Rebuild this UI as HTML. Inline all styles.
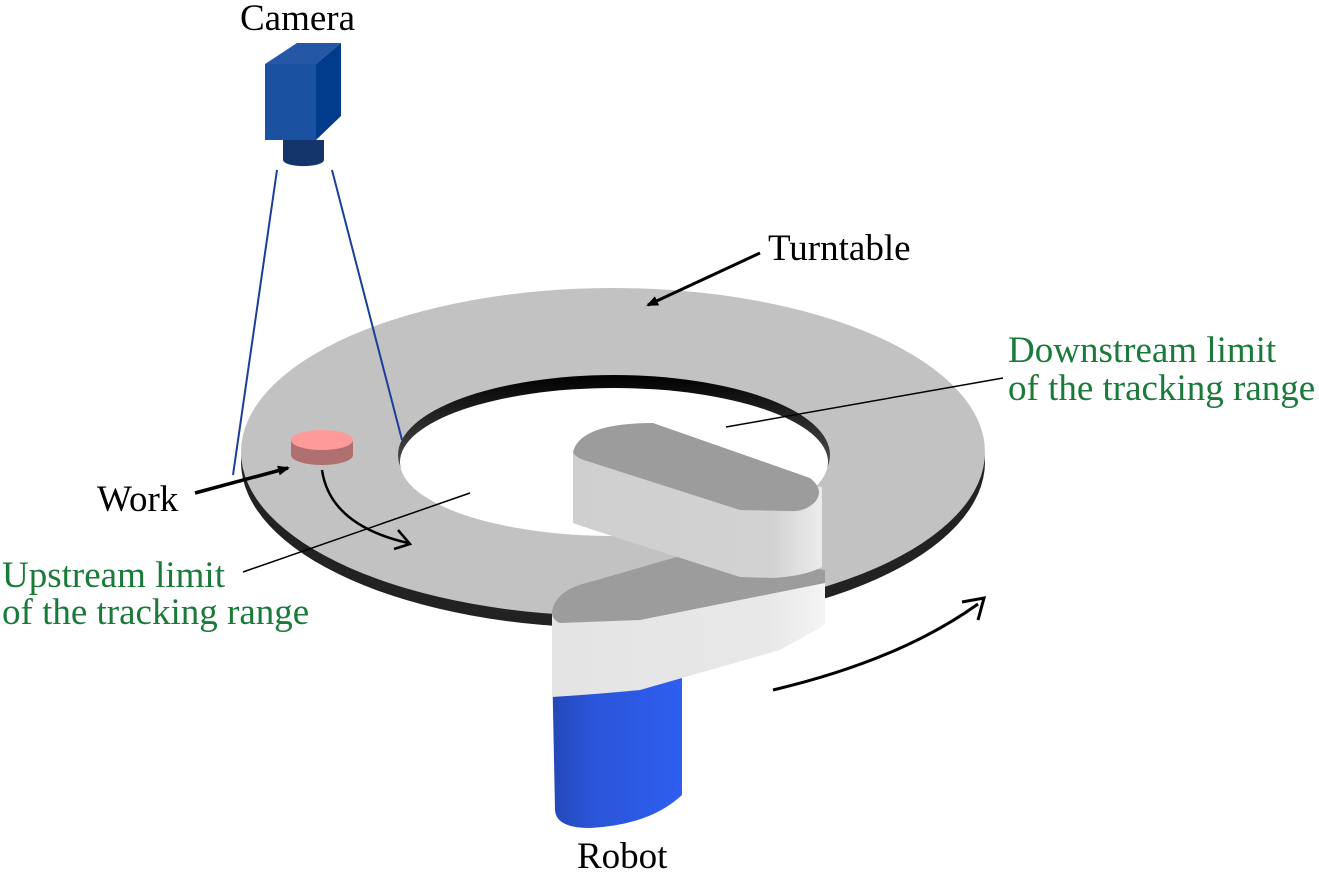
<!DOCTYPE html>
<html><head><style>
body{margin:0;background:#fff}
svg text{font-family:"Liberation Serif",serif;font-size:37px}
</style></head><body>
<svg width="1319" height="880" viewBox="0 0 1319 880" xmlns="http://www.w3.org/2000/svg">
<defs>
<linearGradient id="blue" x1="0" x2="1"><stop offset="0" stop-color="#2448b8"/><stop offset="0.3" stop-color="#2a55d8"/><stop offset="1" stop-color="#2f5ef0"/></linearGradient>
<linearGradient id="side" x1="0" x2="1"><stop offset="0" stop-color="#e4e4e4"/><stop offset="0.8" stop-color="#e8e8e8"/><stop offset="1" stop-color="#f4f4f4"/></linearGradient>
<linearGradient id="side2" x1="0" x2="1"><stop offset="0" stop-color="#cfcfcf"/><stop offset="0.8" stop-color="#d2d2d2"/><stop offset="1" stop-color="#ececec"/></linearGradient>
<linearGradient id="rim" x1="0" y1="0" x2="0" y2="1"><stop offset="0" stop-color="#000"/><stop offset="1" stop-color="#888"/></linearGradient>
<marker id="ah" markerWidth="12" markerHeight="10" refX="10" refY="5" orient="auto" markerUnits="userSpaceOnUse"><path d="M0,0 L12,5 L0,10 z" fill="#000"/></marker>
</defs>
<ellipse cx="613" cy="462" rx="372" ry="166" fill="#222"/>
<ellipse cx="613" cy="452" rx="372" ry="164" fill="#c2c2c2"/>
<ellipse cx="614" cy="455" rx="216" ry="80" fill="url(#rim)"/>
<ellipse cx="614" cy="462" rx="214" ry="74" fill="#fff"/>
<polygon points="265,64 297,43 341,43 316,64" fill="#2458a6"/>
<polygon points="316,64 341,43 341,116 316,140" fill="#003b8c"/>
<rect x="265" y="64" width="51" height="76" fill="#1a51a0"/>
<path d="M283,140 L283,160 A20,6 0 0 0 324,160 L324,140 Z" fill="#13356c"/>
<line x1="277" y1="170" x2="233" y2="475" stroke="#1a3f9a" stroke-width="2"/>
<line x1="332" y1="170" x2="402" y2="440" stroke="#1a3f9a" stroke-width="2"/>
<path d="M291,440 L291,455 A31,10 0 0 0 353,455 L353,440 Z" fill="#b07070"/>
<ellipse cx="322" cy="440" rx="31" ry="10" fill="#ff9a9a"/>
<path d="M552,660 L682,660 L682,795 Q650,825 590,828 Q556,828 555,810 Z" fill="url(#blue)"/>
<path d="M552,612 L552,697 Q600,694 640,690 L780,650 L825,625 L825,570 Z" fill="url(#side)"/>
<path d="M552,612 Q555,590 590,582 L680,556 L825,570 L825,583 L640,620 L560,623 Q552,620 552,612 Z" fill="#9c9c9c"/>
<path d="M573,452 L573,523 Q580,526 740,577 L773,578 Q805,576 822,567 L822,487 Z" fill="url(#side2)"/>
<path d="M573,452 Q580,423 653,423 L810,478 Q825,490 815,502 Q805,512 790,511 L740,510 L590,462 Q575,458 573,452 Z" fill="#9c9c9c"/>
<line x1="760" y1="253" x2="648" y2="305" stroke="#000" stroke-width="3" marker-end="url(#ah)"/>
<line x1="195" y1="493" x2="288" y2="468" stroke="#000" stroke-width="3.5" marker-end="url(#ah)"/>
<path d="M322,470 Q330,525 408,543" fill="none" stroke="#000" stroke-width="2.5"/>
<path d="M398,530 L410,544 L394,549" fill="none" stroke="#000" stroke-width="2.5"/>
<path d="M773,690 Q900,660 978,604" fill="none" stroke="#000" stroke-width="3"/>
<path d="M962,602 L984,598 L978,620" fill="none" stroke="#000" stroke-width="3"/>
<line x1="1003" y1="378" x2="726" y2="427" stroke="#000" stroke-width="1.5"/>
<line x1="243" y1="572" x2="470" y2="493" stroke="#000" stroke-width="1.5"/>
<text x="240" y="30">Camera</text>
<text x="768" y="260">Turntable</text>
<text x="97" y="511">Work</text>
<text x="577" y="868">Robot</text>
<text x="1008" y="362" fill="#1a7a3a">Downstream limit</text>
<text x="1008" y="400" fill="#1a7a3a">of the tracking range</text>
<text x="2" y="587" fill="#1a7a3a">Upstream limit</text>
<text x="2" y="624" fill="#1a7a3a">of the tracking range</text>
</svg>
</body></html>
